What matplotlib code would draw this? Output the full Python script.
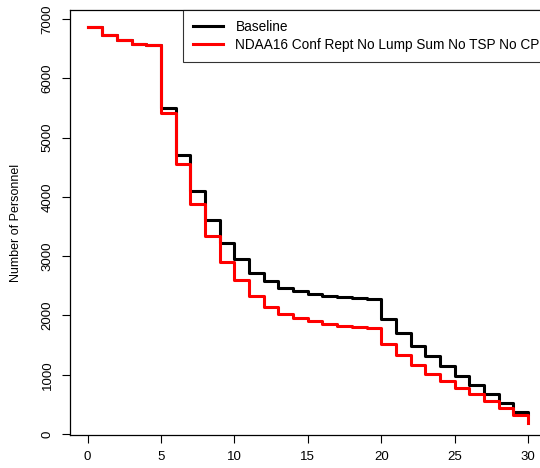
import matplotlib
matplotlib.use("Agg")
import matplotlib.pyplot as plt

plt.rcParams["font.family"] = ["Liberation Sans", "DejaVu Sans"]

years = list(range(0, 31))
baseline = [6865, 6731, 6642, 6584, 6562, 5490, 4711, 4106, 3613, 3226,
            2945, 2714, 2574, 2468, 2411, 2361, 2327, 2305, 2288, 2277,
            1947, 1705, 1492, 1312, 1155, 987, 836, 684, 533, 375, 345]
ndaa16 = [6865, 6731, 6642, 6584, 6562, 5406, 4555, 3882, 3337, 2899,
          2591, 2327, 2142, 2019, 1964, 1906, 1851, 1823, 1800, 1784,
          1526, 1329, 1172, 1021, 897, 779, 673, 555, 432, 320, 190]
labels = ["Baseline", "NDAA16 Conf Rept No Lump Sum No TSP No CP"]
xticks = [0, 5, 10, 15, 20, 25, 30]
yticks = [0, 1000, 2000, 3000, 4000, 5000, 6000, 7000]

fig = plt.figure(figsize=(5.4, 4.68), dpi=100)
# right edge of the plot box lies just outside the picture, like the original crop
ax = fig.add_axes([0.1296, 0.0705, 0.8808, 0.9081])

ax.plot(years, baseline, drawstyle="steps-post", color="black", lw=2.2, label=labels[0])
ax.plot(years, ndaa16, drawstyle="steps-post", color="#ff0000", lw=2.2, label=labels[1])

ax.set_xlim(-1.2, 31.2)
ax.set_ylim(-15, 7150)
ax.set_xticks(xticks)
ax.set_yticks(yticks)
ax.set_yticklabels([str(v) for v in yticks], rotation=90, va="center")
ax.tick_params(direction="out", length=5.8, width=0.8, labelsize=9.5, pad=6)
ax.set_ylabel("Number of Personnel", fontsize=9, labelpad=14)

for s in ax.spines.values():
    s.set_linewidth(0.9)

leg = ax.legend(loc="upper left", bbox_to_anchor=(0.2376, 1.0), borderaxespad=0,
                fontsize=9.8, frameon=True, fancybox=False, handlelength=2.2,
                handletextpad=0.9, borderpad=0.75, labelspacing=0.25)
leg.get_frame().set_edgecolor("black")
leg.get_frame().set_linewidth(0.8)

fig.savefig("out.png", dpi=100)
